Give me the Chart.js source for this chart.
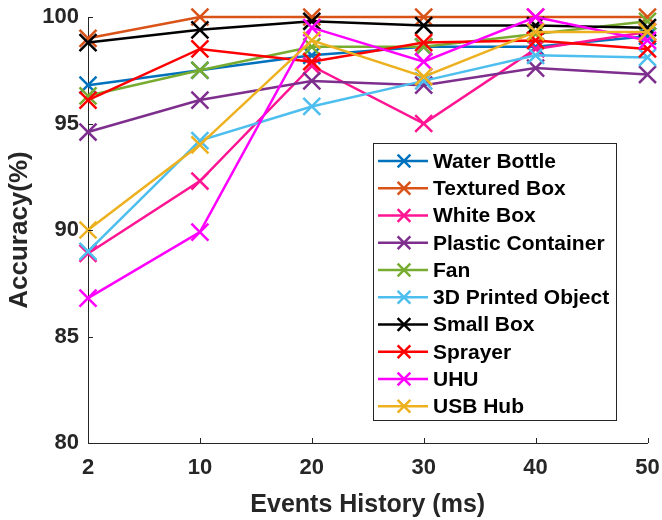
<!DOCTYPE html>
<html>
<head>
<meta charset="utf-8">
<script src="https://cdn.jsdelivr.net/npm/chart.js@4.4.1/dist/chart.umd.min.js"></script>
<style>
html,body{margin:0;padding:0;background:#fff;}
#wrap{width:662px;height:520px;position:relative;}
</style>
</head>
<body>
<div id="wrap"><canvas id="c" width="662" height="520"></canvas></div>
<script>
const categories = ['2', '10', '20', '30', '40', '50'];
const yTicks = [80, 85, 90, 95, 100];

const waterBottle      = [96.8, 97.5, 98.2, 98.6, 98.6, 99.1];
const texturedBox      = [99.0, 100, 100, 100, 100, 100];
const whiteBox         = [88.9, 92.3, 97.7, 95.0, 98.5, 99.3];
const plasticContainer = [94.6, 96.1, 97.0, 96.8, 97.6, 97.3];
const fan              = [96.3, 97.5, 98.6, 98.6, 99.2, 99.8];
const printed3D        = [89.0, 94.2, 95.8, 97.0, 98.2, 98.1];
const smallBox         = [98.8, 99.4, 99.8, 99.6, 99.6, 99.5];
const sprayer          = [96.1, 98.5, 97.9, 98.8, 98.9, 98.5];
const uhu              = [86.8, 89.9, 99.5, 97.9, 100, 98.9];
const usbHub           = [90.0, 94.0, 98.9, 97.2, 99.3, 99.3];

const seriesNames = ['Water Bottle', 'Textured Box', 'White Box', 'Plastic Container', 'Fan',
  '3D Printed Object', 'Small Box', 'Sprayer', 'UHU', 'USB Hub'];
const seriesValues = [waterBottle, texturedBox, whiteBox, plasticContainer, fan,
  printed3D, smallBox, sprayer, uhu, usbHub];
const seriesColors = ['#0072BD', '#D95319', '#FF1493', '#7E2F8E', '#77AC30',
  '#4DBEEE', '#000000', '#FF0000', '#FF00FF', '#EDB120'];

const AXIS = '#262626';
const FONT = "'Liberation Sans', Arial, Helvetica, sans-serif";

const datasets = seriesNames.map((name, i) => ({
  label: name,
  data: seriesValues[i],
  borderColor: seriesColors[i],
  backgroundColor: seriesColors[i],
  borderWidth: 2.5,
  pointStyle: 'crossRot',
  pointRadius: 12,
  pointHoverRadius: 12,
  pointBorderWidth: 2.5,
  tension: 0,
  fill: false,
  clip: false,
  order: seriesNames.length - 1 - i
}));

const extras = {
  id: 'extras',
  afterDraw(chart) {
    const ctx = chart.ctx;
    const xs = chart.scales.x, ys = chart.scales.y;
    const ca = chart.chartArea;
    ctx.save();
    // inward ticks
    ctx.strokeStyle = AXIS;
    ctx.lineWidth = 1;
    ctx.beginPath();
    categories.forEach((c, i) => {
      const px = Math.round(xs.getPixelForValue(i)) + 0.5;
      ctx.moveTo(px, ca.bottom);
      ctx.lineTo(px, ca.bottom - 5);
    });
    yTicks.forEach(v => {
      const py = Math.round(ys.getPixelForValue(v)) + 0.5;
      ctx.moveTo(ca.left, py);
      ctx.lineTo(ca.left + 5, py);
    });
    ctx.stroke();

    // legend
    const bx = ca.left + 285, by = ca.top + 126, bw = 243, bh = 277;
    ctx.fillStyle = '#ffffff';
    ctx.fillRect(bx, by, bw, bh);
    ctx.strokeStyle = AXIS;
    ctx.lineWidth = 1;
    ctx.strokeRect(bx + 0.5, by + 0.5, bw, bh);
    const rowH = 27.25;
    ctx.font = "bold 21px " + FONT;
    ctx.textBaseline = 'middle';
    ctx.textAlign = 'left';
    chart.data.datasets.forEach((ds, i) => {
      const cy = by + 18 + i * rowH;
      ctx.strokeStyle = ds.borderColor;
      ctx.lineWidth = 2.5;
      ctx.beginPath();
      ctx.moveTo(bx + 5, cy);
      ctx.lineTo(bx + 55, cy);
      ctx.stroke();
      Chart.helpers.drawPoint(ctx, {pointStyle: 'crossRot', radius: 9, borderWidth: 2.5, rotation: 0}, bx + 31, cy);
      ctx.fillStyle = '#000000';
      ctx.fillText(ds.label, bx + 60, cy + 1);
    });
    ctx.restore();
  }
};

new Chart(document.getElementById('c'), {
  type: 'line',
  data: { labels: categories, datasets },
  options: {
    responsive: false,
    animation: false,
    events: [],
    layout: { padding: { left: 0, right: 14, top: 17, bottom: 0 } },
    plugins: { legend: { display: false }, tooltip: { enabled: false } },
    scales: {
      x: {
        type: 'category',
        offset: false,
        grid: { display: false, drawTicks: false },
        border: { display: true, color: AXIS, width: 1 },
        ticks: { color: AXIS, padding: 12, font: { family: FONT, size: 22, weight: 'bold' }, maxRotation: 0, autoSkip: false },
        title: { display: true, text: 'Events History (ms)', color: AXIS, font: { family: FONT, size: 25, weight: 'bold' }, padding: { top: 8, bottom: 0 } },
        afterFit(s) { s.height = 77; s.paddingLeft = 0; s.paddingRight = 0; }
      },
      y: {
        min: 80, max: 100,
        grid: { display: false, drawTicks: false },
        border: { display: true, color: AXIS, width: 1 },
        afterBuildTicks(s) { s.ticks = yTicks.map(v => ({ value: v })); },
        ticks: { color: AXIS, padding: 9, font: { family: FONT, size: 22, weight: 'bold' } },
        title: { display: true, text: 'Accuracy(%)', color: AXIS, font: { family: FONT, size: 26, weight: 'bold' }, padding: { top: 4, bottom: 0 } },
        afterFit(s) { s.width = 88; s.paddingTop = 0; s.paddingBottom = 0; }
      }
    }
  },
  plugins: [extras]
});
</script>
</body>
</html>
